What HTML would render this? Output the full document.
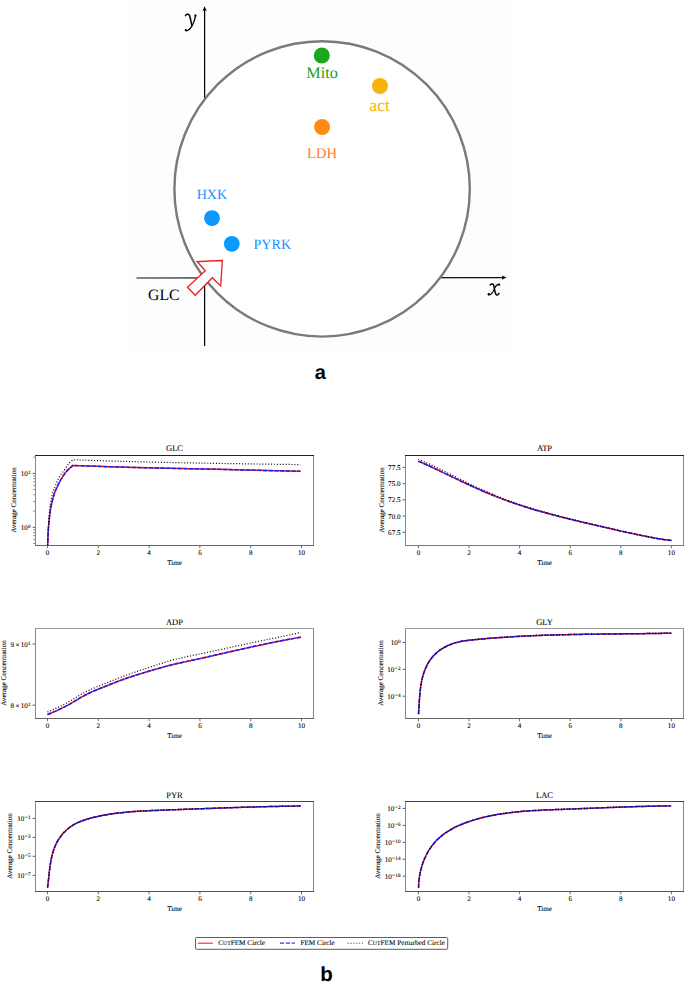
<!DOCTYPE html>
<html><head><meta charset="utf-8"><title>Figure</title>
<style>
html,body{margin:0;padding:0;background:#fff;width:685px;height:987px;overflow:hidden;}
.charts text{stroke:#000;stroke-width:0.08px;}
svg{display:block;}

</style></head><body>
<svg width="685" height="987" viewBox="0 0 685 987" font-family='"Liberation Serif", serif' fill="#000" text-rendering="geometricPrecision">
<rect x="130" y="1" width="382.5" height="352" fill="#fdfdfd"/>
<line x1="204.6" y1="9" x2="204.6" y2="346" stroke="#000" stroke-width="1.2"/>
<path d="M204.6,6.3 L202.5,11 L204.6,10.2 L206.7,11 Z" fill="#000"/>
<line x1="136.5" y1="278.0" x2="503" y2="277.55" stroke="#111" stroke-width="1.2"/>
<path d="M506.5,277.6 L501.8,275.5 L502.6,277.6 L501.8,279.7 Z" fill="#000"/>
<circle cx="322.1" cy="188.9" r="147.7" fill="#fff" stroke="#7a7a7a" stroke-width="2.4"/>
<path d="M222.30,260.50 L197.10,261.50 L205.30,270.70 L187.50,287.30 L195.20,295.20 L212.30,277.70 L220.70,285.90 Z" fill="#fff" stroke="#ee1c1c" stroke-width="1.3" stroke-linejoin="miter"/>
<circle cx="321.8" cy="55.5" r="8" fill="#1ea51e"/>
<circle cx="379.95" cy="86" r="8" fill="#f6b40a"/>
<circle cx="322.1" cy="127" r="8" fill="#ff8c0f"/>
<circle cx="212" cy="218.2" r="7.9" fill="#0a99ff"/>
<circle cx="231.8" cy="243.8" r="7.9" fill="#0a99ff"/>
<text x="322" y="78.1" font-family='"Liberation Serif", serif' font-size="16.2" fill="#1a9e1a" text-anchor="middle">Mito</text>
<text x="379.6" y="110.9" font-family='"Liberation Serif", serif' font-size="17.6" fill="#f6b40a" text-anchor="middle">act</text>
<text x="322" y="157.8" font-family='"Liberation Serif", serif' font-size="14.6" fill="#ff7a1f" text-anchor="middle">LDH</text>
<text x="196.7" y="199" font-family='"Liberation Serif", serif' font-size="14.1" fill="#1a90ff">HXK</text>
<text x="253.4" y="248.7" font-family='"Liberation Serif", serif' font-size="14.2" fill="#1a90ff">PYRK</text>
<text x="148" y="300.4" font-family='"Liberation Serif", serif' font-size="15.8" fill="#000">GLC</text>
<g fill="none" stroke="#000" stroke-linecap="round"><path d="M185.5,15.6 C186.3,14.3 188.4,13.6 189.4,15.2 C190.1,16.6 190.6,19.5 191.1,22 C191.4,23.8 191.6,24.9 192,25.6" stroke-width="1.5"/><path d="M195.6,15.4 C195.2,18.5 194.2,21.6 192.6,24.8 C191.2,27.6 189.3,29.8 187.6,30.5 C186.7,30.9 186,30.8 185.6,30.5" stroke-width="1.3"/></g><circle cx="195.4" cy="15.7" r="1.15" fill="#000"/><circle cx="185.8" cy="30.1" r="1.15" fill="#000"/>
<g fill="none" stroke="#000" stroke-linecap="round"><path d="M490.2,285 C491,283.9 492.6,283.4 493.4,284.6 C494.1,285.8 494.4,288.5 494.9,291 C495.3,293 495.8,294.9 496.8,295.1 C497.6,295.3 498.4,294.5 499,293.4" stroke-width="1.45"/><path d="M499.2,284.4 C497.6,284.3 496,285.5 495,287.4 C494.2,289 493.6,290.7 492.6,292.4 C491.6,294 490.4,295 488.7,294.8" stroke-width="1.05"/></g><circle cx="499.2" cy="284.7" r="1.1" fill="#000"/><circle cx="488.8" cy="294.3" r="1.2" fill="#000"/>
<text x="320.4" y="379.2" font-family='"Liberation Sans", sans-serif' font-weight="bold" font-size="20" fill="#000" text-anchor="middle">a</text>
<text x="326.5" y="980.9" font-family='"Liberation Sans", sans-serif' font-weight="bold" font-size="20.5" fill="#000" text-anchor="middle">b</text>
<g class="charts">
<clipPath id="c35_455"><rect x="35" y="455" width="279" height="91"/></clipPath>
<g clip-path="url(#c35_455)" fill="none" stroke-width="1.5">
<path d="M47.60,548.00 C47.62,547.48 47.60,547.58 47.70,544.90 C47.80,542.22 47.97,535.98 48.20,531.90 C48.43,527.82 48.70,524.25 49.10,520.40 C49.50,516.55 50.03,512.17 50.60,508.80 C51.17,505.43 51.87,502.75 52.50,500.20 C53.13,497.65 53.60,495.75 54.40,493.50 C55.20,491.25 56.25,488.95 57.30,486.70 C58.35,484.45 59.42,482.23 60.70,480.00 C61.98,477.77 63.65,475.15 65.00,473.30 C66.35,471.45 67.48,470.22 68.80,468.90 C70.12,467.58 72.22,465.98 72.90,465.40 C82.02,465.72 108.08,466.75 127.60,467.30 C147.12,467.85 170.83,468.27 190.00,468.70 C209.17,469.13 224.20,469.47 242.60,469.90 C261.00,470.33 290.77,471.07 300.40,471.30" stroke="#ff1a1a"/>
<path d="M47.60,548.00 C47.62,547.48 47.60,547.58 47.70,544.90 C47.80,542.22 47.97,535.98 48.20,531.90 C48.43,527.82 48.70,524.25 49.10,520.40 C49.50,516.55 50.03,512.17 50.60,508.80 C51.17,505.43 51.87,502.75 52.50,500.20 C53.13,497.65 53.60,495.75 54.40,493.50 C55.20,491.25 56.25,488.95 57.30,486.70 C58.35,484.45 59.42,482.23 60.70,480.00 C61.98,477.77 63.65,475.15 65.00,473.30 C66.35,471.45 67.48,470.22 68.80,468.90 C70.12,467.58 72.22,465.98 72.90,465.40 C82.02,465.72 108.08,466.75 127.60,467.30 C147.12,467.85 170.83,468.27 190.00,468.70 C209.17,469.13 224.20,469.47 242.60,469.90 C261.00,470.33 290.77,471.07 300.40,471.30" stroke="#1a1aff" stroke-dasharray="4.3 1.4"/>
<path d="M47.60,548.00 C47.62,546.92 47.45,546.75 47.70,541.50 C47.95,536.25 48.62,522.90 49.10,516.50 C49.58,510.10 50.03,506.93 50.60,503.10 C51.17,499.27 51.70,496.38 52.50,493.50 C53.30,490.62 54.28,488.53 55.40,485.80 C56.52,483.07 57.77,479.67 59.20,477.10 C60.63,474.53 62.40,472.63 64.00,470.40 C65.60,468.17 67.32,465.47 68.80,463.70 C70.28,461.93 72.22,460.45 72.90,459.80 C82.02,460.08 108.08,460.98 127.60,461.50 C147.12,462.02 170.83,462.52 190.00,462.90 C209.17,463.28 224.20,463.52 242.60,463.80 C261.00,464.08 290.77,464.47 300.40,464.60" stroke="#000" stroke-width="1.2" stroke-dasharray="1 1.9"/>
</g>
<rect x="35" y="455" width="1" height="91" fill="#888"/>
<rect x="313" y="455" width="1" height="91" fill="#888"/>
<rect x="35" y="455" width="279" height="1" fill="#222"/>
<rect x="35" y="545" width="279" height="1" fill="#666"/>
<line x1="47.50" y1="546" x2="47.50" y2="548.20" stroke="#444" stroke-width="0.8"/>
<text x="47.50" y="554.50" font-size="7.1" text-anchor="middle">0</text>
<line x1="98.30" y1="546" x2="98.30" y2="548.20" stroke="#444" stroke-width="0.8"/>
<text x="98.30" y="554.50" font-size="7.1" text-anchor="middle">2</text>
<line x1="149.10" y1="546" x2="149.10" y2="548.20" stroke="#444" stroke-width="0.8"/>
<text x="149.10" y="554.50" font-size="7.1" text-anchor="middle">4</text>
<line x1="199.90" y1="546" x2="199.90" y2="548.20" stroke="#444" stroke-width="0.8"/>
<text x="199.90" y="554.50" font-size="7.1" text-anchor="middle">6</text>
<line x1="250.70" y1="546" x2="250.70" y2="548.20" stroke="#444" stroke-width="0.8"/>
<text x="250.70" y="554.50" font-size="7.1" text-anchor="middle">8</text>
<line x1="301.50" y1="546" x2="301.50" y2="548.20" stroke="#444" stroke-width="0.8"/>
<text x="301.50" y="554.50" font-size="7.1" text-anchor="middle">10</text>
<line x1="32.60" y1="473.40" x2="35" y2="473.40" stroke="#333" stroke-width="0.8"/>
<text x="30.50" y="475.90" font-size="7.1" text-anchor="end">10<tspan dy="-1.9" font-size="5.2">1</tspan></text>
<line x1="32.60" y1="527.30" x2="35" y2="527.30" stroke="#333" stroke-width="0.8"/>
<text x="30.50" y="529.80" font-size="7.1" text-anchor="end">10<tspan dy="-1.9" font-size="5.2">0</tspan></text>
<line x1="33.20" y1="543.53" x2="35" y2="543.53" stroke="#555" stroke-width="0.7"/>
<line x1="33.20" y1="539.26" x2="35" y2="539.26" stroke="#555" stroke-width="0.7"/>
<line x1="33.20" y1="535.65" x2="35" y2="535.65" stroke="#555" stroke-width="0.7"/>
<line x1="33.20" y1="532.52" x2="35" y2="532.52" stroke="#555" stroke-width="0.7"/>
<line x1="33.20" y1="529.77" x2="35" y2="529.77" stroke="#555" stroke-width="0.7"/>
<line x1="33.20" y1="511.07" x2="35" y2="511.07" stroke="#555" stroke-width="0.7"/>
<line x1="33.20" y1="501.58" x2="35" y2="501.58" stroke="#555" stroke-width="0.7"/>
<line x1="33.20" y1="494.85" x2="35" y2="494.85" stroke="#555" stroke-width="0.7"/>
<line x1="33.20" y1="489.63" x2="35" y2="489.63" stroke="#555" stroke-width="0.7"/>
<line x1="33.20" y1="485.36" x2="35" y2="485.36" stroke="#555" stroke-width="0.7"/>
<line x1="33.20" y1="481.75" x2="35" y2="481.75" stroke="#555" stroke-width="0.7"/>
<line x1="33.20" y1="478.62" x2="35" y2="478.62" stroke="#555" stroke-width="0.7"/>
<line x1="33.20" y1="475.87" x2="35" y2="475.87" stroke="#555" stroke-width="0.7"/>
<line x1="33.20" y1="457.17" x2="35" y2="457.17" stroke="#555" stroke-width="0.7"/>
<text x="174.50" y="451.10" font-size="8.5" text-anchor="middle">GLC</text>
<text x="174.50" y="564.60" font-size="7.1" text-anchor="middle">Time</text>
<text transform="translate(16.30,500.00) rotate(-90)" font-size="7.1" text-anchor="middle">Average Concentration</text>
<clipPath id="c405_455"><rect x="405" y="455" width="279" height="91"/></clipPath>
<g clip-path="url(#c405_455)" fill="none" stroke-width="1.5">
<path d="M418.40,461.20 C419.48,461.67 422.72,463.05 424.89,464.02 C427.05,464.98 429.21,465.98 431.37,466.98 C433.54,467.98 435.70,469.01 437.86,470.04 C440.02,471.07 442.19,472.11 444.35,473.16 C446.51,474.20 448.67,475.25 450.84,476.29 C453.00,477.33 455.16,478.37 457.32,479.40 C459.49,480.44 461.65,481.47 463.81,482.48 C465.97,483.49 468.14,484.50 470.30,485.49 C472.46,486.48 474.62,487.46 476.78,488.42 C478.95,489.38 481.11,490.32 483.27,491.25 C485.43,492.18 487.60,493.09 489.76,493.98 C491.92,494.87 494.08,495.74 496.25,496.59 C498.41,497.44 500.57,498.28 502.73,499.09 C504.90,499.90 507.06,500.70 509.22,501.47 C511.38,502.25 513.55,503.00 515.71,503.74 C517.87,504.48 520.03,505.20 522.19,505.90 C524.36,506.60 526.52,507.29 528.68,507.96 C530.84,508.63 533.01,509.28 535.17,509.92 C537.33,510.56 539.49,511.18 541.66,511.79 C543.82,512.40 545.98,513.00 548.14,513.58 C550.31,514.17 552.47,514.74 554.63,515.31 C556.79,515.88 558.96,516.43 561.12,516.98 C563.28,517.53 565.44,518.07 567.61,518.60 C569.77,519.13 571.93,519.66 574.09,520.18 C576.25,520.70 578.42,521.22 580.58,521.74 C582.74,522.25 584.90,522.76 587.07,523.27 C589.23,523.77 591.39,524.28 593.55,524.78 C595.72,525.28 597.88,525.78 600.04,526.28 C602.20,526.78 604.37,527.28 606.53,527.78 C608.69,528.27 610.85,528.77 613.02,529.26 C615.18,529.75 617.34,530.24 619.50,530.73 C621.66,531.22 623.83,531.70 625.99,532.18 C628.15,532.66 630.31,533.14 632.48,533.60 C634.64,534.07 636.80,534.53 638.96,534.98 C641.13,535.43 643.29,535.87 645.45,536.30 C647.61,536.72 649.78,537.14 651.94,537.53 C654.10,537.92 656.26,538.31 658.43,538.66 C660.59,539.01 662.75,539.34 664.91,539.64 C667.08,539.94 670.32,540.31 671.40,540.44" stroke="#ff1a1a"/>
<path d="M418.40,461.20 C419.48,461.67 422.72,463.05 424.89,464.02 C427.05,464.98 429.21,465.98 431.37,466.98 C433.54,467.98 435.70,469.01 437.86,470.04 C440.02,471.07 442.19,472.11 444.35,473.16 C446.51,474.20 448.67,475.25 450.84,476.29 C453.00,477.33 455.16,478.37 457.32,479.40 C459.49,480.44 461.65,481.47 463.81,482.48 C465.97,483.49 468.14,484.50 470.30,485.49 C472.46,486.48 474.62,487.46 476.78,488.42 C478.95,489.38 481.11,490.32 483.27,491.25 C485.43,492.18 487.60,493.09 489.76,493.98 C491.92,494.87 494.08,495.74 496.25,496.59 C498.41,497.44 500.57,498.28 502.73,499.09 C504.90,499.90 507.06,500.70 509.22,501.47 C511.38,502.25 513.55,503.00 515.71,503.74 C517.87,504.48 520.03,505.20 522.19,505.90 C524.36,506.60 526.52,507.29 528.68,507.96 C530.84,508.63 533.01,509.28 535.17,509.92 C537.33,510.56 539.49,511.18 541.66,511.79 C543.82,512.40 545.98,513.00 548.14,513.58 C550.31,514.17 552.47,514.74 554.63,515.31 C556.79,515.88 558.96,516.43 561.12,516.98 C563.28,517.53 565.44,518.07 567.61,518.60 C569.77,519.13 571.93,519.66 574.09,520.18 C576.25,520.70 578.42,521.22 580.58,521.74 C582.74,522.25 584.90,522.76 587.07,523.27 C589.23,523.77 591.39,524.28 593.55,524.78 C595.72,525.28 597.88,525.78 600.04,526.28 C602.20,526.78 604.37,527.28 606.53,527.78 C608.69,528.27 610.85,528.77 613.02,529.26 C615.18,529.75 617.34,530.24 619.50,530.73 C621.66,531.22 623.83,531.70 625.99,532.18 C628.15,532.66 630.31,533.14 632.48,533.60 C634.64,534.07 636.80,534.53 638.96,534.98 C641.13,535.43 643.29,535.87 645.45,536.30 C647.61,536.72 649.78,537.14 651.94,537.53 C654.10,537.92 656.26,538.31 658.43,538.66 C660.59,539.01 662.75,539.34 664.91,539.64 C667.08,539.94 670.32,540.31 671.40,540.44" stroke="#1a1aff" stroke-dasharray="4.3 1.4"/>
<path d="M418.40,459.20 C419.48,459.68 422.72,461.07 424.89,462.04 C427.05,463.01 429.21,464.01 431.37,465.02 C433.54,466.04 435.70,467.07 437.86,468.11 C440.02,469.14 442.19,470.18 444.35,471.24 C446.51,472.31 448.67,473.38 450.84,474.48 C453.00,475.57 455.16,476.70 457.32,477.80 C459.49,478.90 461.65,480.00 463.81,481.08 C465.97,482.16 468.14,483.26 470.30,484.29 C472.46,485.33 474.62,486.31 476.78,487.30 C478.95,488.29 481.11,489.26 483.27,490.21 C485.43,491.16 487.60,492.10 489.76,493.01 C491.92,493.93 494.08,494.83 496.25,495.71 C498.41,496.58 500.57,497.44 502.73,498.28 C504.90,499.12 507.06,499.94 509.22,500.74 C511.38,501.54 513.55,502.33 515.71,503.09 C517.87,503.85 520.03,504.59 522.19,505.31 C524.36,506.03 526.52,506.71 528.68,507.39 C530.84,508.07 533.01,508.73 535.17,509.37 C537.33,510.02 539.49,510.65 541.66,511.27 C543.82,511.89 545.98,512.49 548.14,513.09 C550.31,513.68 552.47,514.27 554.63,514.84 C556.79,515.41 558.96,515.98 561.12,516.53 C563.28,517.09 565.44,517.64 567.61,518.18 C569.77,518.72 571.93,519.25 574.09,519.79 C576.25,520.32 578.42,520.84 580.58,521.36 C582.74,521.88 584.90,522.40 587.07,522.92 C589.23,523.43 591.39,523.95 593.55,524.46 C595.72,524.97 597.88,525.48 600.04,525.98 C602.20,526.49 604.37,526.99 606.53,527.50 C608.69,528.00 610.85,528.50 613.02,529.00 C615.18,529.50 617.34,529.99 619.50,530.49 C621.66,530.98 623.83,531.47 625.99,531.95 C628.15,532.44 630.31,532.92 632.48,533.39 C634.64,533.87 636.80,534.33 638.96,534.79 C641.13,535.24 643.29,535.69 645.45,536.12 C647.61,536.56 649.78,536.98 651.94,537.38 C654.10,537.78 656.26,538.16 658.43,538.52 C660.59,538.88 662.75,539.22 664.91,539.52 C667.08,539.82 670.32,540.20 671.40,540.34" stroke="#000" stroke-width="1.2" stroke-dasharray="1 1.9"/>
</g>
<rect x="405" y="455" width="1" height="91" fill="#888"/>
<rect x="683" y="455" width="1" height="91" fill="#888"/>
<rect x="405" y="455" width="279" height="1" fill="#222"/>
<rect x="405" y="545" width="279" height="1" fill="#777"/>
<line x1="418.40" y1="546" x2="418.40" y2="548.20" stroke="#444" stroke-width="0.8"/>
<text x="418.40" y="554.50" font-size="7.1" text-anchor="middle">0</text>
<line x1="469.00" y1="546" x2="469.00" y2="548.20" stroke="#444" stroke-width="0.8"/>
<text x="469.00" y="554.50" font-size="7.1" text-anchor="middle">2</text>
<line x1="519.60" y1="546" x2="519.60" y2="548.20" stroke="#444" stroke-width="0.8"/>
<text x="519.60" y="554.50" font-size="7.1" text-anchor="middle">4</text>
<line x1="570.20" y1="546" x2="570.20" y2="548.20" stroke="#444" stroke-width="0.8"/>
<text x="570.20" y="554.50" font-size="7.1" text-anchor="middle">6</text>
<line x1="620.80" y1="546" x2="620.80" y2="548.20" stroke="#444" stroke-width="0.8"/>
<text x="620.80" y="554.50" font-size="7.1" text-anchor="middle">8</text>
<line x1="671.40" y1="546" x2="671.40" y2="548.20" stroke="#444" stroke-width="0.8"/>
<text x="671.40" y="554.50" font-size="7.1" text-anchor="middle">10</text>
<line x1="402.60" y1="467.40" x2="405" y2="467.40" stroke="#333" stroke-width="0.8"/>
<text x="400.50" y="469.90" font-size="7.1" text-anchor="end">77.5</text>
<line x1="402.60" y1="483.70" x2="405" y2="483.70" stroke="#333" stroke-width="0.8"/>
<text x="400.50" y="486.20" font-size="7.1" text-anchor="end">75.0</text>
<line x1="402.60" y1="499.90" x2="405" y2="499.90" stroke="#333" stroke-width="0.8"/>
<text x="400.50" y="502.40" font-size="7.1" text-anchor="end">72.5</text>
<line x1="402.60" y1="516.10" x2="405" y2="516.10" stroke="#333" stroke-width="0.8"/>
<text x="400.50" y="518.60" font-size="7.1" text-anchor="end">70.0</text>
<line x1="402.60" y1="532.30" x2="405" y2="532.30" stroke="#333" stroke-width="0.8"/>
<text x="400.50" y="534.80" font-size="7.1" text-anchor="end">67.5</text>
<text x="544.50" y="451.10" font-size="8.5" text-anchor="middle">ATP</text>
<text x="544.50" y="564.60" font-size="7.1" text-anchor="middle">Time</text>
<text transform="translate(384.10,500.00) rotate(-90)" font-size="7.1" text-anchor="middle">Average Concentration</text>
<clipPath id="c35_628"><rect x="35" y="628" width="279" height="91"/></clipPath>
<g clip-path="url(#c35_628)" fill="none" stroke-width="1.5">
<path d="M47.48,714.45 C48.00,714.25 49.57,713.63 50.61,713.20 C51.66,712.78 52.70,712.35 53.73,711.91 C54.77,711.47 55.80,711.02 56.82,710.56 C57.85,710.10 58.87,709.63 59.88,709.15 C60.90,708.68 61.91,708.19 62.92,707.69 C63.92,707.19 64.92,706.68 65.91,706.15 C66.91,705.63 67.89,705.10 68.87,704.55 C69.86,704.00 70.83,703.44 71.80,702.87 C72.77,702.30 73.73,701.72 74.70,701.14 C75.66,700.57 76.63,699.98 77.59,699.41 C78.56,698.84 79.53,698.26 80.50,697.70 C81.47,697.14 82.45,696.59 83.44,696.05 C84.42,695.52 85.42,695.00 86.42,694.50 C87.42,693.99 88.43,693.51 89.45,693.03 C90.46,692.56 91.48,692.09 92.51,691.64 C93.54,691.19 94.57,690.74 95.60,690.31 C96.64,689.87 97.68,689.44 98.72,689.02 C99.76,688.59 100.80,688.17 101.84,687.75 C102.89,687.34 103.93,686.92 104.98,686.50 C106.02,686.09 107.06,685.67 108.11,685.25 C109.15,684.83 110.20,684.41 111.24,684.00 C112.29,683.58 113.33,683.17 114.38,682.76 C115.42,682.35 116.47,681.94 117.52,681.54 C118.57,681.14 119.62,680.74 120.67,680.35 C121.72,679.96 122.78,679.57 123.84,679.19 C124.89,678.82 125.95,678.44 127.01,678.08 C128.08,677.71 129.14,677.35 130.20,676.99 C131.27,676.64 132.33,676.29 133.40,675.94 C134.47,675.59 135.54,675.25 136.61,674.91 C137.68,674.58 138.76,674.24 139.83,673.91 C140.91,673.58 141.98,673.26 143.06,672.94 C144.14,672.61 145.21,672.30 146.29,671.98 C147.37,671.66 148.45,671.35 149.53,671.03 C150.61,670.72 151.69,670.40 152.77,670.09 C153.85,669.78 154.93,669.47 156.01,669.15 C157.09,668.84 158.17,668.53 159.25,668.22 C160.33,667.91 161.41,667.60 162.49,667.30 C163.57,667.00 164.65,666.69 165.74,666.40 C166.82,666.11 167.91,665.82 168.99,665.54 C170.08,665.25 171.17,664.98 172.26,664.71 C173.35,664.45 174.45,664.19 175.54,663.93 C176.63,663.68 177.73,663.43 178.82,663.18 C179.92,662.94 181.02,662.69 182.12,662.46 C183.21,662.22 184.31,661.98 185.41,661.74 C186.51,661.51 187.61,661.27 188.71,661.04 C189.81,660.80 190.90,660.57 192.00,660.33 C193.10,660.09 194.20,659.85 195.30,659.61 C196.40,659.37 197.49,659.13 198.59,658.89 C199.69,658.65 200.79,658.41 201.88,658.16 C202.98,657.92 204.08,657.67 205.17,657.43 C206.27,657.18 207.37,656.94 208.46,656.69 C209.56,656.45 210.66,656.20 211.75,655.95 C212.85,655.70 213.94,655.46 215.04,655.21 C216.14,654.96 217.23,654.71 218.33,654.46 C219.42,654.21 220.52,653.96 221.61,653.71 C222.71,653.47 223.81,653.22 224.90,652.97 C226.00,652.72 227.09,652.47 228.19,652.22 C229.28,651.97 230.38,651.72 231.47,651.47 C232.57,651.22 233.67,650.97 234.76,650.73 C235.86,650.48 236.95,650.23 238.05,649.98 C239.15,649.73 240.24,649.49 241.34,649.24 C242.43,648.99 243.53,648.75 244.63,648.50 C245.72,648.26 246.82,648.01 247.92,647.77 C249.01,647.53 250.11,647.28 251.21,647.04 C252.30,646.80 253.40,646.56 254.50,646.32 C255.60,646.08 256.69,645.84 257.79,645.61 C258.89,645.37 259.99,645.13 261.09,644.90 C262.19,644.66 263.29,644.43 264.38,644.20 C265.48,643.97 266.58,643.73 267.68,643.51 C268.78,643.28 269.88,643.05 270.98,642.82 C272.08,642.60 273.19,642.37 274.29,642.15 C275.39,641.93 276.49,641.71 277.59,641.49 C278.69,641.27 279.80,641.06 280.90,640.84 C282.00,640.63 283.11,640.41 284.21,640.20 C285.31,639.99 286.42,639.79 287.52,639.58 C288.63,639.37 289.73,639.17 290.84,638.97 C291.94,638.77 293.05,638.57 294.16,638.37 C295.26,638.18 296.37,637.98 297.48,637.79 C298.59,637.60 300.25,637.32 300.81,637.23" stroke="#ff1a1a"/>
<path d="M47.48,714.45 C48.00,714.25 49.57,713.63 50.61,713.20 C51.66,712.78 52.70,712.35 53.73,711.91 C54.77,711.47 55.80,711.02 56.82,710.56 C57.85,710.10 58.87,709.63 59.88,709.15 C60.90,708.68 61.91,708.19 62.92,707.69 C63.92,707.19 64.92,706.68 65.91,706.15 C66.91,705.63 67.89,705.10 68.87,704.55 C69.86,704.00 70.83,703.44 71.80,702.87 C72.77,702.30 73.73,701.72 74.70,701.14 C75.66,700.57 76.63,699.98 77.59,699.41 C78.56,698.84 79.53,698.26 80.50,697.70 C81.47,697.14 82.45,696.59 83.44,696.05 C84.42,695.52 85.42,695.00 86.42,694.50 C87.42,693.99 88.43,693.51 89.45,693.03 C90.46,692.56 91.48,692.09 92.51,691.64 C93.54,691.19 94.57,690.74 95.60,690.31 C96.64,689.87 97.68,689.44 98.72,689.02 C99.76,688.59 100.80,688.17 101.84,687.75 C102.89,687.34 103.93,686.92 104.98,686.50 C106.02,686.09 107.06,685.67 108.11,685.25 C109.15,684.83 110.20,684.41 111.24,684.00 C112.29,683.58 113.33,683.17 114.38,682.76 C115.42,682.35 116.47,681.94 117.52,681.54 C118.57,681.14 119.62,680.74 120.67,680.35 C121.72,679.96 122.78,679.57 123.84,679.19 C124.89,678.82 125.95,678.44 127.01,678.08 C128.08,677.71 129.14,677.35 130.20,676.99 C131.27,676.64 132.33,676.29 133.40,675.94 C134.47,675.59 135.54,675.25 136.61,674.91 C137.68,674.58 138.76,674.24 139.83,673.91 C140.91,673.58 141.98,673.26 143.06,672.94 C144.14,672.61 145.21,672.30 146.29,671.98 C147.37,671.66 148.45,671.35 149.53,671.03 C150.61,670.72 151.69,670.40 152.77,670.09 C153.85,669.78 154.93,669.47 156.01,669.15 C157.09,668.84 158.17,668.53 159.25,668.22 C160.33,667.91 161.41,667.60 162.49,667.30 C163.57,667.00 164.65,666.69 165.74,666.40 C166.82,666.11 167.91,665.82 168.99,665.54 C170.08,665.25 171.17,664.98 172.26,664.71 C173.35,664.45 174.45,664.19 175.54,663.93 C176.63,663.68 177.73,663.43 178.82,663.18 C179.92,662.94 181.02,662.69 182.12,662.46 C183.21,662.22 184.31,661.98 185.41,661.74 C186.51,661.51 187.61,661.27 188.71,661.04 C189.81,660.80 190.90,660.57 192.00,660.33 C193.10,660.09 194.20,659.85 195.30,659.61 C196.40,659.37 197.49,659.13 198.59,658.89 C199.69,658.65 200.79,658.41 201.88,658.16 C202.98,657.92 204.08,657.67 205.17,657.43 C206.27,657.18 207.37,656.94 208.46,656.69 C209.56,656.45 210.66,656.20 211.75,655.95 C212.85,655.70 213.94,655.46 215.04,655.21 C216.14,654.96 217.23,654.71 218.33,654.46 C219.42,654.21 220.52,653.96 221.61,653.71 C222.71,653.47 223.81,653.22 224.90,652.97 C226.00,652.72 227.09,652.47 228.19,652.22 C229.28,651.97 230.38,651.72 231.47,651.47 C232.57,651.22 233.67,650.97 234.76,650.73 C235.86,650.48 236.95,650.23 238.05,649.98 C239.15,649.73 240.24,649.49 241.34,649.24 C242.43,648.99 243.53,648.75 244.63,648.50 C245.72,648.26 246.82,648.01 247.92,647.77 C249.01,647.53 250.11,647.28 251.21,647.04 C252.30,646.80 253.40,646.56 254.50,646.32 C255.60,646.08 256.69,645.84 257.79,645.61 C258.89,645.37 259.99,645.13 261.09,644.90 C262.19,644.66 263.29,644.43 264.38,644.20 C265.48,643.97 266.58,643.73 267.68,643.51 C268.78,643.28 269.88,643.05 270.98,642.82 C272.08,642.60 273.19,642.37 274.29,642.15 C275.39,641.93 276.49,641.71 277.59,641.49 C278.69,641.27 279.80,641.06 280.90,640.84 C282.00,640.63 283.11,640.41 284.21,640.20 C285.31,639.99 286.42,639.79 287.52,639.58 C288.63,639.37 289.73,639.17 290.84,638.97 C291.94,638.77 293.05,638.57 294.16,638.37 C295.26,638.18 296.37,637.98 297.48,637.79 C298.59,637.60 300.25,637.32 300.81,637.23" stroke="#1a1aff" stroke-dasharray="4.3 1.4"/>
<path d="M47.49,711.98 C48.01,711.77 49.58,711.12 50.61,710.68 C51.65,710.24 52.69,709.79 53.72,709.34 C54.75,708.88 55.78,708.42 56.80,707.95 C57.82,707.48 58.84,707.00 59.86,706.51 C60.87,706.02 61.88,705.52 62.88,705.00 C63.88,704.49 64.88,703.97 65.87,703.43 C66.86,702.90 67.84,702.35 68.82,701.78 C69.80,701.22 70.76,700.64 71.73,700.06 C72.70,699.48 73.65,698.88 74.62,698.29 C75.58,697.70 76.53,697.10 77.50,696.51 C78.46,695.92 79.42,695.34 80.39,694.77 C81.37,694.20 82.34,693.64 83.33,693.10 C84.32,692.57 85.32,692.05 86.32,691.55 C87.33,691.05 88.35,690.57 89.37,690.10 C90.39,689.63 91.42,689.18 92.45,688.73 C93.49,688.28 94.53,687.85 95.56,687.41 C96.60,686.98 97.65,686.55 98.69,686.12 C99.73,685.69 100.77,685.26 101.81,684.83 C102.86,684.40 103.90,683.97 104.94,683.55 C105.99,683.12 107.03,682.70 108.08,682.27 C109.12,681.85 110.17,681.43 111.21,681.01 C112.26,680.59 113.31,680.17 114.35,679.76 C115.40,679.35 116.45,678.93 117.50,678.53 C118.55,678.12 119.60,677.71 120.65,677.31 C121.71,676.91 122.76,676.51 123.82,676.12 C124.87,675.73 125.93,675.34 126.99,674.95 C128.05,674.57 129.11,674.19 130.17,673.81 C131.23,673.43 132.29,673.06 133.36,672.69 C134.42,672.33 135.49,671.96 136.55,671.60 C137.62,671.24 138.69,670.88 139.75,670.52 C140.82,670.16 141.89,669.81 142.96,669.45 C144.03,669.10 145.10,668.75 146.17,668.39 C147.24,668.04 148.31,667.69 149.38,667.34 C150.45,666.99 151.52,666.64 152.59,666.28 C153.66,665.93 154.73,665.58 155.80,665.22 C156.87,664.87 157.94,664.51 159.01,664.16 C160.08,663.81 161.15,663.46 162.23,663.11 C163.30,662.77 164.37,662.43 165.45,662.09 C166.53,661.76 167.60,661.43 168.68,661.12 C169.76,660.80 170.85,660.50 171.94,660.20 C173.02,659.91 174.11,659.63 175.20,659.35 C176.30,659.08 177.39,658.81 178.49,658.55 C179.58,658.29 180.68,658.04 181.78,657.79 C182.88,657.54 183.98,657.30 185.08,657.06 C186.19,656.82 187.29,656.59 188.39,656.35 C189.49,656.12 190.60,655.89 191.70,655.66 C192.80,655.43 193.91,655.20 195.01,654.96 C196.11,654.73 197.22,654.50 198.32,654.27 C199.42,654.04 200.53,653.81 201.63,653.58 C202.73,653.35 203.83,653.12 204.94,652.89 C206.04,652.66 207.14,652.43 208.24,652.20 C209.35,651.97 210.45,651.73 211.55,651.50 C212.65,651.26 213.75,651.03 214.85,650.79 C215.96,650.56 217.06,650.32 218.16,650.08 C219.26,649.85 220.36,649.61 221.46,649.37 C222.56,649.13 223.66,648.89 224.76,648.65 C225.86,648.41 226.97,648.17 228.07,647.93 C229.17,647.69 230.27,647.45 231.37,647.21 C232.47,646.97 233.57,646.73 234.67,646.49 C235.77,646.25 236.87,646.01 237.97,645.77 C239.07,645.53 240.17,645.29 241.27,645.05 C242.38,644.82 243.48,644.58 244.58,644.34 C245.68,644.10 246.78,643.87 247.88,643.63 C248.98,643.40 250.09,643.16 251.19,642.93 C252.29,642.69 253.39,642.46 254.49,642.23 C255.60,642.00 256.70,641.77 257.80,641.54 C258.91,641.31 260.01,641.08 261.11,640.85 C262.21,640.62 263.32,640.39 264.42,640.17 C265.52,639.94 266.63,639.71 267.73,639.48 C268.83,639.26 269.94,639.03 271.04,638.80 C272.14,638.57 273.25,638.35 274.35,638.12 C275.45,637.89 276.56,637.66 277.66,637.44 C278.76,637.21 279.87,636.98 280.97,636.75 C282.07,636.52 283.18,636.29 284.28,636.06 C285.38,635.83 286.48,635.59 287.59,635.36 C288.69,635.13 289.79,634.90 290.89,634.66 C291.99,634.42 293.10,634.19 294.20,633.95 C295.30,633.71 296.40,633.47 297.50,633.23 C298.60,632.99 300.25,632.62 300.80,632.50" stroke="#000" stroke-width="1.2" stroke-dasharray="1 1.9"/>
</g>
<rect x="35" y="628" width="1" height="91" fill="#888"/>
<rect x="313" y="628" width="1" height="91" fill="#888"/>
<rect x="35" y="628" width="279" height="1" fill="#999"/>
<rect x="35" y="718" width="279" height="1" fill="#666"/>
<line x1="47.50" y1="719" x2="47.50" y2="721.20" stroke="#444" stroke-width="0.8"/>
<text x="47.50" y="727.50" font-size="7.1" text-anchor="middle">0</text>
<line x1="98.30" y1="719" x2="98.30" y2="721.20" stroke="#444" stroke-width="0.8"/>
<text x="98.30" y="727.50" font-size="7.1" text-anchor="middle">2</text>
<line x1="149.10" y1="719" x2="149.10" y2="721.20" stroke="#444" stroke-width="0.8"/>
<text x="149.10" y="727.50" font-size="7.1" text-anchor="middle">4</text>
<line x1="199.90" y1="719" x2="199.90" y2="721.20" stroke="#444" stroke-width="0.8"/>
<text x="199.90" y="727.50" font-size="7.1" text-anchor="middle">6</text>
<line x1="250.70" y1="719" x2="250.70" y2="721.20" stroke="#444" stroke-width="0.8"/>
<text x="250.70" y="727.50" font-size="7.1" text-anchor="middle">8</text>
<line x1="301.50" y1="719" x2="301.50" y2="721.20" stroke="#444" stroke-width="0.8"/>
<text x="301.50" y="727.50" font-size="7.1" text-anchor="middle">10</text>
<line x1="32.60" y1="644.10" x2="35" y2="644.10" stroke="#333" stroke-width="0.8"/>
<text x="30.50" y="646.60" font-size="7.1" text-anchor="end">9<tspan dx="1.6">&#215;</tspan><tspan dx="1.2">10</tspan><tspan dy="-1.9" font-size="5.2">1</tspan></text>
<line x1="32.60" y1="705.20" x2="35" y2="705.20" stroke="#333" stroke-width="0.8"/>
<text x="30.50" y="707.70" font-size="7.1" text-anchor="end">8<tspan dx="1.6">&#215;</tspan><tspan dx="1.2">10</tspan><tspan dy="-1.9" font-size="5.2">1</tspan></text>
<text x="174.50" y="624.80" font-size="8.5" text-anchor="middle">ADP</text>
<text x="174.50" y="737.60" font-size="7.1" text-anchor="middle">Time</text>
<text transform="translate(5.60,673.00) rotate(-90)" font-size="7.1" text-anchor="middle">Average Concentration</text>
<clipPath id="c405_628"><rect x="405" y="628" width="279" height="91"/></clipPath>
<g clip-path="url(#c405_628)" fill="none" stroke-width="1.5">
<path d="M418.50,714.17 C418.54,713.58 418.68,711.86 418.76,710.67 C418.84,709.48 418.92,708.26 418.99,707.02 C419.07,705.79 419.14,704.53 419.21,703.25 C419.29,701.98 419.37,700.69 419.46,699.39 C419.55,698.10 419.64,696.78 419.75,695.47 C419.87,694.15 419.98,692.83 420.13,691.50 C420.27,690.18 420.42,688.85 420.60,687.53 C420.79,686.20 420.99,684.88 421.22,683.56 C421.45,682.25 421.70,680.93 421.99,679.64 C422.28,678.34 422.60,677.05 422.95,675.78 C423.31,674.51 423.70,673.26 424.13,672.02 C424.56,670.79 425.03,669.57 425.54,668.39 C426.05,667.20 426.60,666.03 427.19,664.90 C427.78,663.77 428.41,662.67 429.09,661.61 C429.76,660.54 430.48,659.51 431.24,658.52 C432.01,657.53 432.82,656.58 433.66,655.68 C434.51,654.77 435.40,653.90 436.32,653.08 C437.25,652.25 438.21,651.46 439.21,650.72 C440.20,649.97 441.23,649.27 442.28,648.61 C443.34,647.95 444.43,647.33 445.54,646.75 C446.64,646.17 447.78,645.63 448.94,645.13 C450.09,644.63 451.27,644.18 452.47,643.77 C453.66,643.35 454.88,642.99 456.10,642.65 C457.33,642.32 458.57,642.03 459.82,641.77 C461.07,641.50 462.34,641.28 463.61,641.07 C464.87,640.86 466.16,640.68 467.44,640.51 C468.72,640.34 470.01,640.20 471.30,640.06 C472.59,639.91 473.89,639.79 475.18,639.66 C476.47,639.53 477.76,639.41 479.05,639.28 C480.35,639.16 481.64,639.04 482.93,638.93 C484.22,638.81 485.51,638.70 486.80,638.59 C488.08,638.48 489.37,638.37 490.66,638.27 C491.95,638.16 493.24,638.06 494.53,637.96 C495.81,637.86 497.10,637.77 498.39,637.67 C499.67,637.58 500.96,637.49 502.24,637.40 C503.53,637.31 504.82,637.23 506.10,637.14 C507.39,637.06 508.67,636.98 509.95,636.90 C511.24,636.82 512.52,636.75 513.81,636.67 C515.09,636.60 516.37,636.52 517.65,636.46 C518.94,636.39 520.22,636.32 521.50,636.25 C522.78,636.19 524.07,636.12 525.35,636.06 C526.63,636.00 527.91,635.94 529.19,635.88 C530.47,635.83 531.75,635.77 533.04,635.72 C534.32,635.66 535.60,635.61 536.88,635.56 C538.16,635.51 539.44,635.46 540.72,635.42 C542.00,635.37 543.28,635.33 544.56,635.28 C545.84,635.24 547.11,635.20 548.39,635.16 C549.67,635.12 550.95,635.08 552.23,635.04 C553.51,635.00 554.79,634.97 556.07,634.93 C557.35,634.90 558.62,634.86 559.90,634.83 C561.18,634.80 562.46,634.77 563.74,634.74 C565.02,634.71 566.29,634.68 567.57,634.65 C568.85,634.63 570.13,634.60 571.41,634.57 C572.69,634.55 573.96,634.52 575.24,634.50 C576.52,634.48 577.80,634.46 579.08,634.43 C580.36,634.41 581.63,634.39 582.91,634.37 C584.19,634.35 585.47,634.33 586.75,634.31 C588.03,634.29 589.30,634.28 590.58,634.26 C591.86,634.24 593.14,634.22 594.42,634.21 C595.70,634.19 596.98,634.18 598.26,634.16 C599.54,634.14 600.81,634.13 602.09,634.11 C603.37,634.10 604.65,634.09 605.93,634.07 C607.21,634.06 608.49,634.04 609.77,634.03 C611.05,634.02 612.33,634.00 613.61,633.99 C614.89,633.97 616.17,633.96 617.46,633.95 C618.74,633.93 620.02,633.92 621.30,633.91 C622.58,633.89 623.86,633.88 625.14,633.87 C626.43,633.85 627.71,633.84 628.99,633.82 C630.27,633.81 631.56,633.79 632.84,633.78 C634.12,633.76 635.41,633.75 636.69,633.73 C637.97,633.72 639.26,633.70 640.54,633.68 C641.83,633.67 643.11,633.65 644.40,633.63 C645.68,633.62 646.97,633.60 648.26,633.58 C649.54,633.56 650.83,633.54 652.12,633.52 C653.40,633.50 654.69,633.48 655.98,633.45 C657.27,633.43 658.56,633.41 659.84,633.38 C661.13,633.36 662.42,633.34 663.71,633.31 C665.00,633.28 666.29,633.26 667.58,633.23 C668.88,633.20 670.81,633.16 671.46,633.14" stroke="#ff1a1a"/>
<path d="M418.50,714.17 C418.54,713.58 418.68,711.86 418.76,710.67 C418.84,709.48 418.92,708.26 418.99,707.02 C419.07,705.79 419.14,704.53 419.21,703.25 C419.29,701.98 419.37,700.69 419.46,699.39 C419.55,698.10 419.64,696.78 419.75,695.47 C419.87,694.15 419.98,692.83 420.13,691.50 C420.27,690.18 420.42,688.85 420.60,687.53 C420.79,686.20 420.99,684.88 421.22,683.56 C421.45,682.25 421.70,680.93 421.99,679.64 C422.28,678.34 422.60,677.05 422.95,675.78 C423.31,674.51 423.70,673.26 424.13,672.02 C424.56,670.79 425.03,669.57 425.54,668.39 C426.05,667.20 426.60,666.03 427.19,664.90 C427.78,663.77 428.41,662.67 429.09,661.61 C429.76,660.54 430.48,659.51 431.24,658.52 C432.01,657.53 432.82,656.58 433.66,655.68 C434.51,654.77 435.40,653.90 436.32,653.08 C437.25,652.25 438.21,651.46 439.21,650.72 C440.20,649.97 441.23,649.27 442.28,648.61 C443.34,647.95 444.43,647.33 445.54,646.75 C446.64,646.17 447.78,645.63 448.94,645.13 C450.09,644.63 451.27,644.18 452.47,643.77 C453.66,643.35 454.88,642.99 456.10,642.65 C457.33,642.32 458.57,642.03 459.82,641.77 C461.07,641.50 462.34,641.28 463.61,641.07 C464.87,640.86 466.16,640.68 467.44,640.51 C468.72,640.34 470.01,640.20 471.30,640.06 C472.59,639.91 473.89,639.79 475.18,639.66 C476.47,639.53 477.76,639.41 479.05,639.28 C480.35,639.16 481.64,639.04 482.93,638.93 C484.22,638.81 485.51,638.70 486.80,638.59 C488.08,638.48 489.37,638.37 490.66,638.27 C491.95,638.16 493.24,638.06 494.53,637.96 C495.81,637.86 497.10,637.77 498.39,637.67 C499.67,637.58 500.96,637.49 502.24,637.40 C503.53,637.31 504.82,637.23 506.10,637.14 C507.39,637.06 508.67,636.98 509.95,636.90 C511.24,636.82 512.52,636.75 513.81,636.67 C515.09,636.60 516.37,636.52 517.65,636.46 C518.94,636.39 520.22,636.32 521.50,636.25 C522.78,636.19 524.07,636.12 525.35,636.06 C526.63,636.00 527.91,635.94 529.19,635.88 C530.47,635.83 531.75,635.77 533.04,635.72 C534.32,635.66 535.60,635.61 536.88,635.56 C538.16,635.51 539.44,635.46 540.72,635.42 C542.00,635.37 543.28,635.33 544.56,635.28 C545.84,635.24 547.11,635.20 548.39,635.16 C549.67,635.12 550.95,635.08 552.23,635.04 C553.51,635.00 554.79,634.97 556.07,634.93 C557.35,634.90 558.62,634.86 559.90,634.83 C561.18,634.80 562.46,634.77 563.74,634.74 C565.02,634.71 566.29,634.68 567.57,634.65 C568.85,634.63 570.13,634.60 571.41,634.57 C572.69,634.55 573.96,634.52 575.24,634.50 C576.52,634.48 577.80,634.46 579.08,634.43 C580.36,634.41 581.63,634.39 582.91,634.37 C584.19,634.35 585.47,634.33 586.75,634.31 C588.03,634.29 589.30,634.28 590.58,634.26 C591.86,634.24 593.14,634.22 594.42,634.21 C595.70,634.19 596.98,634.18 598.26,634.16 C599.54,634.14 600.81,634.13 602.09,634.11 C603.37,634.10 604.65,634.09 605.93,634.07 C607.21,634.06 608.49,634.04 609.77,634.03 C611.05,634.02 612.33,634.00 613.61,633.99 C614.89,633.97 616.17,633.96 617.46,633.95 C618.74,633.93 620.02,633.92 621.30,633.91 C622.58,633.89 623.86,633.88 625.14,633.87 C626.43,633.85 627.71,633.84 628.99,633.82 C630.27,633.81 631.56,633.79 632.84,633.78 C634.12,633.76 635.41,633.75 636.69,633.73 C637.97,633.72 639.26,633.70 640.54,633.68 C641.83,633.67 643.11,633.65 644.40,633.63 C645.68,633.62 646.97,633.60 648.26,633.58 C649.54,633.56 650.83,633.54 652.12,633.52 C653.40,633.50 654.69,633.48 655.98,633.45 C657.27,633.43 658.56,633.41 659.84,633.38 C661.13,633.36 662.42,633.34 663.71,633.31 C665.00,633.28 666.29,633.26 667.58,633.23 C668.88,633.20 670.81,633.16 671.46,633.14" stroke="#1a1aff" stroke-dasharray="4.3 1.4"/>
<path d="M418.50,713.97 C418.54,713.38 418.68,711.66 418.76,710.47 C418.84,709.28 418.92,708.06 418.99,706.82 C419.07,705.59 419.14,704.33 419.21,703.05 C419.29,701.78 419.37,700.49 419.46,699.19 C419.55,697.90 419.64,696.58 419.75,695.27 C419.87,693.95 419.98,692.63 420.13,691.30 C420.27,689.98 420.42,688.65 420.60,687.33 C420.79,686.00 420.99,684.68 421.22,683.36 C421.45,682.05 421.70,680.73 421.99,679.44 C422.28,678.14 422.60,676.85 422.95,675.58 C423.31,674.31 423.70,673.06 424.13,671.82 C424.56,670.59 425.03,669.37 425.54,668.19 C426.05,667.00 426.60,665.83 427.19,664.70 C427.78,663.57 428.41,662.47 429.09,661.41 C429.76,660.34 430.48,659.31 431.24,658.32 C432.01,657.33 432.82,656.38 433.66,655.48 C434.51,654.57 435.40,653.70 436.32,652.88 C437.25,652.05 438.21,651.26 439.21,650.52 C440.20,649.77 441.23,649.07 442.28,648.41 C443.34,647.75 444.43,647.13 445.54,646.55 C446.64,645.97 447.78,645.43 448.94,644.93 C450.09,644.43 451.27,643.98 452.47,643.57 C453.66,643.15 454.88,642.79 456.10,642.45 C457.33,642.12 458.57,641.83 459.82,641.57 C461.07,641.30 462.34,641.08 463.61,640.87 C464.87,640.66 466.16,640.48 467.44,640.31 C468.72,640.14 470.01,640.00 471.30,639.86 C472.59,639.71 473.89,639.59 475.18,639.46 C476.47,639.33 477.76,639.21 479.05,639.08 C480.35,638.96 481.64,638.84 482.93,638.73 C484.22,638.61 485.51,638.50 486.80,638.39 C488.08,638.28 489.37,638.17 490.66,638.07 C491.95,637.96 493.24,637.86 494.53,637.76 C495.81,637.66 497.10,637.57 498.39,637.47 C499.67,637.38 500.96,637.29 502.24,637.20 C503.53,637.11 504.82,637.03 506.10,636.94 C507.39,636.86 508.67,636.78 509.95,636.70 C511.24,636.62 512.52,636.55 513.81,636.47 C515.09,636.40 516.37,636.32 517.65,636.26 C518.94,636.19 520.22,636.12 521.50,636.05 C522.78,635.99 524.07,635.92 525.35,635.86 C526.63,635.80 527.91,635.74 529.19,635.68 C530.47,635.63 531.75,635.57 533.04,635.52 C534.32,635.46 535.60,635.41 536.88,635.36 C538.16,635.31 539.44,635.26 540.72,635.22 C542.00,635.17 543.28,635.13 544.56,635.08 C545.84,635.04 547.11,635.00 548.39,634.96 C549.67,634.92 550.95,634.88 552.23,634.84 C553.51,634.80 554.79,634.77 556.07,634.73 C557.35,634.70 558.62,634.66 559.90,634.63 C561.18,634.60 562.46,634.57 563.74,634.54 C565.02,634.51 566.29,634.48 567.57,634.45 C568.85,634.43 570.13,634.40 571.41,634.37 C572.69,634.35 573.96,634.32 575.24,634.30 C576.52,634.28 577.80,634.26 579.08,634.23 C580.36,634.21 581.63,634.19 582.91,634.17 C584.19,634.15 585.47,634.13 586.75,634.11 C588.03,634.09 589.30,634.08 590.58,634.06 C591.86,634.04 593.14,634.02 594.42,634.01 C595.70,633.99 596.98,633.98 598.26,633.96 C599.54,633.94 600.81,633.93 602.09,633.91 C603.37,633.90 604.65,633.89 605.93,633.87 C607.21,633.86 608.49,633.84 609.77,633.83 C611.05,633.82 612.33,633.80 613.61,633.79 C614.89,633.77 616.17,633.76 617.46,633.75 C618.74,633.73 620.02,633.72 621.30,633.71 C622.58,633.69 623.86,633.68 625.14,633.67 C626.43,633.65 627.71,633.64 628.99,633.62 C630.27,633.61 631.56,633.59 632.84,633.58 C634.12,633.56 635.41,633.55 636.69,633.53 C637.97,633.52 639.26,633.50 640.54,633.48 C641.83,633.47 643.11,633.45 644.40,633.43 C645.68,633.42 646.97,633.40 648.26,633.38 C649.54,633.36 650.83,633.34 652.12,633.32 C653.40,633.30 654.69,633.28 655.98,633.25 C657.27,633.23 658.56,633.21 659.84,633.18 C661.13,633.16 662.42,633.14 663.71,633.11 C665.00,633.08 666.29,633.06 667.58,633.03 C668.88,633.00 670.81,632.96 671.46,632.94" stroke="#000" stroke-width="1.2" stroke-dasharray="1 1.9"/>
</g>
<rect x="405" y="628" width="1" height="91" fill="#888"/>
<rect x="683" y="628" width="1" height="91" fill="#888"/>
<rect x="405" y="628" width="279" height="1" fill="#999"/>
<rect x="405" y="718" width="279" height="1" fill="#666"/>
<line x1="418.40" y1="719" x2="418.40" y2="721.20" stroke="#444" stroke-width="0.8"/>
<text x="418.40" y="727.50" font-size="7.1" text-anchor="middle">0</text>
<line x1="469.00" y1="719" x2="469.00" y2="721.20" stroke="#444" stroke-width="0.8"/>
<text x="469.00" y="727.50" font-size="7.1" text-anchor="middle">2</text>
<line x1="519.60" y1="719" x2="519.60" y2="721.20" stroke="#444" stroke-width="0.8"/>
<text x="519.60" y="727.50" font-size="7.1" text-anchor="middle">4</text>
<line x1="570.20" y1="719" x2="570.20" y2="721.20" stroke="#444" stroke-width="0.8"/>
<text x="570.20" y="727.50" font-size="7.1" text-anchor="middle">6</text>
<line x1="620.80" y1="719" x2="620.80" y2="721.20" stroke="#444" stroke-width="0.8"/>
<text x="620.80" y="727.50" font-size="7.1" text-anchor="middle">8</text>
<line x1="671.40" y1="719" x2="671.40" y2="721.20" stroke="#444" stroke-width="0.8"/>
<text x="671.40" y="727.50" font-size="7.1" text-anchor="middle">10</text>
<line x1="402.60" y1="642.50" x2="405" y2="642.50" stroke="#333" stroke-width="0.8"/>
<text x="400.50" y="645.00" font-size="7.1" text-anchor="end">10<tspan dy="-1.9" font-size="5.2">0</tspan></text>
<line x1="402.60" y1="669.40" x2="405" y2="669.40" stroke="#333" stroke-width="0.8"/>
<text x="400.50" y="671.90" font-size="7.1" text-anchor="end">10<tspan dy="-1.9" font-size="6.2">&#8722;</tspan><tspan font-size="5.2">2</tspan></text>
<line x1="402.60" y1="696.20" x2="405" y2="696.20" stroke="#333" stroke-width="0.8"/>
<text x="400.50" y="698.70" font-size="7.1" text-anchor="end">10<tspan dy="-1.9" font-size="6.2">&#8722;</tspan><tspan font-size="5.2">4</tspan></text>
<text x="544.50" y="624.80" font-size="8.5" text-anchor="middle">GLY</text>
<text x="544.50" y="737.60" font-size="7.1" text-anchor="middle">Time</text>
<text transform="translate(382.60,673.00) rotate(-90)" font-size="7.1" text-anchor="middle">Average Concentration</text>
<clipPath id="c35_801"><rect x="35" y="801" width="279" height="91"/></clipPath>
<g clip-path="url(#c35_801)" fill="none" stroke-width="1.5">
<path d="M47.53,887.53 C47.61,886.95 47.85,885.21 48.00,884.02 C48.15,882.82 48.29,881.60 48.42,880.37 C48.56,879.14 48.69,877.88 48.82,876.62 C48.96,875.36 49.09,874.08 49.23,872.79 C49.38,871.51 49.52,870.21 49.69,868.92 C49.86,867.62 50.03,866.32 50.23,865.02 C50.42,863.72 50.63,862.42 50.87,861.13 C51.11,859.83 51.37,858.54 51.66,857.27 C51.95,855.99 52.26,854.72 52.61,853.47 C52.95,852.22 53.33,850.99 53.75,849.77 C54.16,848.56 54.61,847.36 55.10,846.19 C55.60,845.03 56.13,843.88 56.70,842.77 C57.28,841.66 57.90,840.57 58.56,839.52 C59.21,838.47 59.92,837.45 60.65,836.46 C61.39,835.47 62.17,834.52 62.99,833.60 C63.80,832.68 64.65,831.79 65.54,830.95 C66.43,830.10 67.35,829.29 68.31,828.52 C69.26,827.75 70.25,827.02 71.27,826.33 C72.29,825.64 73.34,824.99 74.42,824.38 C75.50,823.77 76.62,823.21 77.75,822.68 C78.88,822.16 80.04,821.67 81.22,821.21 C82.39,820.75 83.59,820.33 84.80,819.94 C86.01,819.54 87.24,819.17 88.47,818.82 C89.69,818.46 90.94,818.14 92.18,817.82 C93.42,817.51 94.66,817.21 95.91,816.92 C97.15,816.63 98.40,816.36 99.65,816.10 C100.89,815.84 102.14,815.59 103.39,815.36 C104.64,815.12 105.89,814.90 107.15,814.69 C108.40,814.47 109.65,814.27 110.91,814.08 C112.16,813.89 113.42,813.71 114.68,813.54 C115.93,813.37 117.19,813.21 118.45,813.06 C119.71,812.91 120.97,812.76 122.23,812.63 C123.49,812.49 124.75,812.37 126.01,812.25 C127.27,812.13 128.54,812.02 129.80,811.91 C131.06,811.81 132.33,811.71 133.59,811.61 C134.86,811.52 136.12,811.44 137.39,811.35 C138.65,811.27 139.92,811.20 141.18,811.12 C142.45,811.05 143.72,810.99 144.98,810.92 C146.25,810.86 147.52,810.80 148.78,810.74 C150.05,810.68 151.32,810.63 152.58,810.58 C153.85,810.52 155.12,810.47 156.39,810.42 C157.65,810.38 158.92,810.33 160.19,810.28 C161.45,810.23 162.72,810.19 163.99,810.14 C165.26,810.10 166.52,810.05 167.79,810.00 C169.05,809.96 170.32,809.91 171.59,809.86 C172.85,809.82 174.12,809.77 175.38,809.72 C176.65,809.67 177.91,809.63 179.18,809.58 C180.44,809.53 181.71,809.49 182.97,809.44 C184.24,809.39 185.50,809.34 186.77,809.30 C188.03,809.25 189.29,809.20 190.56,809.16 C191.82,809.11 193.09,809.06 194.35,809.01 C195.61,808.97 196.88,808.92 198.14,808.87 C199.40,808.83 200.67,808.78 201.93,808.73 C203.19,808.69 204.46,808.64 205.72,808.59 C206.98,808.55 208.25,808.50 209.51,808.46 C210.77,808.41 212.04,808.37 213.30,808.32 C214.56,808.27 215.83,808.23 217.09,808.19 C218.35,808.14 219.62,808.10 220.88,808.05 C222.14,808.01 223.41,807.96 224.67,807.92 C225.93,807.88 227.20,807.84 228.46,807.79 C229.72,807.75 230.98,807.71 232.25,807.67 C233.51,807.62 234.77,807.58 236.04,807.54 C237.30,807.50 238.57,807.46 239.83,807.42 C241.09,807.38 242.36,807.34 243.62,807.30 C244.88,807.27 246.15,807.23 247.41,807.19 C248.68,807.15 249.94,807.12 251.20,807.08 C252.47,807.04 253.73,807.01 255.00,806.97 C256.26,806.94 257.53,806.90 258.79,806.87 C260.06,806.84 261.32,806.80 262.59,806.77 C263.85,806.74 265.12,806.71 266.38,806.68 C267.65,806.64 268.92,806.61 270.18,806.59 C271.45,806.56 272.71,806.53 273.98,806.50 C275.25,806.47 276.51,806.45 277.78,806.42 C279.05,806.39 280.32,806.37 281.58,806.34 C282.85,806.32 284.12,806.30 285.39,806.27 C286.66,806.25 287.92,806.23 289.19,806.21 C290.46,806.19 291.73,806.17 293.00,806.15 C294.27,806.13 295.54,806.12 296.81,806.10 C298.08,806.08 299.99,806.06 300.62,806.05" stroke="#ff1a1a"/>
<path d="M47.53,887.53 C47.61,886.95 47.85,885.21 48.00,884.02 C48.15,882.82 48.29,881.60 48.42,880.37 C48.56,879.14 48.69,877.88 48.82,876.62 C48.96,875.36 49.09,874.08 49.23,872.79 C49.38,871.51 49.52,870.21 49.69,868.92 C49.86,867.62 50.03,866.32 50.23,865.02 C50.42,863.72 50.63,862.42 50.87,861.13 C51.11,859.83 51.37,858.54 51.66,857.27 C51.95,855.99 52.26,854.72 52.61,853.47 C52.95,852.22 53.33,850.99 53.75,849.77 C54.16,848.56 54.61,847.36 55.10,846.19 C55.60,845.03 56.13,843.88 56.70,842.77 C57.28,841.66 57.90,840.57 58.56,839.52 C59.21,838.47 59.92,837.45 60.65,836.46 C61.39,835.47 62.17,834.52 62.99,833.60 C63.80,832.68 64.65,831.79 65.54,830.95 C66.43,830.10 67.35,829.29 68.31,828.52 C69.26,827.75 70.25,827.02 71.27,826.33 C72.29,825.64 73.34,824.99 74.42,824.38 C75.50,823.77 76.62,823.21 77.75,822.68 C78.88,822.16 80.04,821.67 81.22,821.21 C82.39,820.75 83.59,820.33 84.80,819.94 C86.01,819.54 87.24,819.17 88.47,818.82 C89.69,818.46 90.94,818.14 92.18,817.82 C93.42,817.51 94.66,817.21 95.91,816.92 C97.15,816.63 98.40,816.36 99.65,816.10 C100.89,815.84 102.14,815.59 103.39,815.36 C104.64,815.12 105.89,814.90 107.15,814.69 C108.40,814.47 109.65,814.27 110.91,814.08 C112.16,813.89 113.42,813.71 114.68,813.54 C115.93,813.37 117.19,813.21 118.45,813.06 C119.71,812.91 120.97,812.76 122.23,812.63 C123.49,812.49 124.75,812.37 126.01,812.25 C127.27,812.13 128.54,812.02 129.80,811.91 C131.06,811.81 132.33,811.71 133.59,811.61 C134.86,811.52 136.12,811.44 137.39,811.35 C138.65,811.27 139.92,811.20 141.18,811.12 C142.45,811.05 143.72,810.99 144.98,810.92 C146.25,810.86 147.52,810.80 148.78,810.74 C150.05,810.68 151.32,810.63 152.58,810.58 C153.85,810.52 155.12,810.47 156.39,810.42 C157.65,810.38 158.92,810.33 160.19,810.28 C161.45,810.23 162.72,810.19 163.99,810.14 C165.26,810.10 166.52,810.05 167.79,810.00 C169.05,809.96 170.32,809.91 171.59,809.86 C172.85,809.82 174.12,809.77 175.38,809.72 C176.65,809.67 177.91,809.63 179.18,809.58 C180.44,809.53 181.71,809.49 182.97,809.44 C184.24,809.39 185.50,809.34 186.77,809.30 C188.03,809.25 189.29,809.20 190.56,809.16 C191.82,809.11 193.09,809.06 194.35,809.01 C195.61,808.97 196.88,808.92 198.14,808.87 C199.40,808.83 200.67,808.78 201.93,808.73 C203.19,808.69 204.46,808.64 205.72,808.59 C206.98,808.55 208.25,808.50 209.51,808.46 C210.77,808.41 212.04,808.37 213.30,808.32 C214.56,808.27 215.83,808.23 217.09,808.19 C218.35,808.14 219.62,808.10 220.88,808.05 C222.14,808.01 223.41,807.96 224.67,807.92 C225.93,807.88 227.20,807.84 228.46,807.79 C229.72,807.75 230.98,807.71 232.25,807.67 C233.51,807.62 234.77,807.58 236.04,807.54 C237.30,807.50 238.57,807.46 239.83,807.42 C241.09,807.38 242.36,807.34 243.62,807.30 C244.88,807.27 246.15,807.23 247.41,807.19 C248.68,807.15 249.94,807.12 251.20,807.08 C252.47,807.04 253.73,807.01 255.00,806.97 C256.26,806.94 257.53,806.90 258.79,806.87 C260.06,806.84 261.32,806.80 262.59,806.77 C263.85,806.74 265.12,806.71 266.38,806.68 C267.65,806.64 268.92,806.61 270.18,806.59 C271.45,806.56 272.71,806.53 273.98,806.50 C275.25,806.47 276.51,806.45 277.78,806.42 C279.05,806.39 280.32,806.37 281.58,806.34 C282.85,806.32 284.12,806.30 285.39,806.27 C286.66,806.25 287.92,806.23 289.19,806.21 C290.46,806.19 291.73,806.17 293.00,806.15 C294.27,806.13 295.54,806.12 296.81,806.10 C298.08,806.08 299.99,806.06 300.62,806.05" stroke="#1a1aff" stroke-dasharray="4.3 1.4"/>
<path d="M47.53,887.33 C47.61,886.75 47.85,885.01 48.00,883.82 C48.15,882.62 48.29,881.40 48.42,880.17 C48.56,878.94 48.69,877.68 48.82,876.42 C48.96,875.16 49.09,873.88 49.23,872.59 C49.38,871.31 49.52,870.01 49.69,868.72 C49.86,867.42 50.03,866.12 50.23,864.82 C50.42,863.52 50.63,862.22 50.87,860.93 C51.11,859.63 51.37,858.34 51.66,857.07 C51.95,855.79 52.26,854.52 52.61,853.27 C52.95,852.02 53.33,850.79 53.75,849.57 C54.16,848.36 54.61,847.16 55.10,845.99 C55.60,844.83 56.13,843.68 56.70,842.57 C57.28,841.46 57.90,840.37 58.56,839.32 C59.21,838.27 59.92,837.25 60.65,836.26 C61.39,835.27 62.17,834.32 62.99,833.40 C63.80,832.48 64.65,831.59 65.54,830.75 C66.43,829.90 67.35,829.09 68.31,828.32 C69.26,827.55 70.25,826.82 71.27,826.13 C72.29,825.44 73.34,824.79 74.42,824.18 C75.50,823.57 76.62,823.01 77.75,822.48 C78.88,821.96 80.04,821.47 81.22,821.01 C82.39,820.55 83.59,820.13 84.80,819.74 C86.01,819.34 87.24,818.97 88.47,818.62 C89.69,818.26 90.94,817.94 92.18,817.62 C93.42,817.31 94.66,817.01 95.91,816.72 C97.15,816.43 98.40,816.16 99.65,815.90 C100.89,815.64 102.14,815.39 103.39,815.16 C104.64,814.92 105.89,814.70 107.15,814.49 C108.40,814.27 109.65,814.07 110.91,813.88 C112.16,813.69 113.42,813.51 114.68,813.34 C115.93,813.17 117.19,813.01 118.45,812.86 C119.71,812.71 120.97,812.56 122.23,812.43 C123.49,812.29 124.75,812.17 126.01,812.05 C127.27,811.93 128.54,811.82 129.80,811.71 C131.06,811.61 132.33,811.51 133.59,811.41 C134.86,811.32 136.12,811.24 137.39,811.15 C138.65,811.07 139.92,811.00 141.18,810.92 C142.45,810.85 143.72,810.79 144.98,810.72 C146.25,810.66 147.52,810.60 148.78,810.54 C150.05,810.48 151.32,810.43 152.58,810.38 C153.85,810.32 155.12,810.27 156.39,810.22 C157.65,810.18 158.92,810.13 160.19,810.08 C161.45,810.03 162.72,809.99 163.99,809.94 C165.26,809.90 166.52,809.85 167.79,809.80 C169.05,809.76 170.32,809.71 171.59,809.66 C172.85,809.62 174.12,809.57 175.38,809.52 C176.65,809.47 177.91,809.43 179.18,809.38 C180.44,809.33 181.71,809.29 182.97,809.24 C184.24,809.19 185.50,809.14 186.77,809.10 C188.03,809.05 189.29,809.00 190.56,808.96 C191.82,808.91 193.09,808.86 194.35,808.81 C195.61,808.77 196.88,808.72 198.14,808.67 C199.40,808.63 200.67,808.58 201.93,808.53 C203.19,808.49 204.46,808.44 205.72,808.39 C206.98,808.35 208.25,808.30 209.51,808.26 C210.77,808.21 212.04,808.17 213.30,808.12 C214.56,808.07 215.83,808.03 217.09,807.99 C218.35,807.94 219.62,807.90 220.88,807.85 C222.14,807.81 223.41,807.76 224.67,807.72 C225.93,807.68 227.20,807.64 228.46,807.59 C229.72,807.55 230.98,807.51 232.25,807.47 C233.51,807.42 234.77,807.38 236.04,807.34 C237.30,807.30 238.57,807.26 239.83,807.22 C241.09,807.18 242.36,807.14 243.62,807.10 C244.88,807.07 246.15,807.03 247.41,806.99 C248.68,806.95 249.94,806.92 251.20,806.88 C252.47,806.84 253.73,806.81 255.00,806.77 C256.26,806.74 257.53,806.70 258.79,806.67 C260.06,806.64 261.32,806.60 262.59,806.57 C263.85,806.54 265.12,806.51 266.38,806.48 C267.65,806.44 268.92,806.41 270.18,806.39 C271.45,806.36 272.71,806.33 273.98,806.30 C275.25,806.27 276.51,806.25 277.78,806.22 C279.05,806.19 280.32,806.17 281.58,806.14 C282.85,806.12 284.12,806.10 285.39,806.07 C286.66,806.05 287.92,806.03 289.19,806.01 C290.46,805.99 291.73,805.97 293.00,805.95 C294.27,805.93 295.54,805.92 296.81,805.90 C298.08,805.88 299.99,805.86 300.62,805.85" stroke="#000" stroke-width="1.2" stroke-dasharray="1 1.9"/>
</g>
<rect x="35" y="801" width="1" height="91" fill="#888"/>
<rect x="313" y="801" width="1" height="91" fill="#888"/>
<rect x="35" y="801" width="279" height="1" fill="#444"/>
<rect x="35" y="891" width="279" height="1" fill="#555"/>
<line x1="47.50" y1="892" x2="47.50" y2="894.20" stroke="#444" stroke-width="0.8"/>
<text x="47.50" y="900.50" font-size="7.1" text-anchor="middle">0</text>
<line x1="98.30" y1="892" x2="98.30" y2="894.20" stroke="#444" stroke-width="0.8"/>
<text x="98.30" y="900.50" font-size="7.1" text-anchor="middle">2</text>
<line x1="149.10" y1="892" x2="149.10" y2="894.20" stroke="#444" stroke-width="0.8"/>
<text x="149.10" y="900.50" font-size="7.1" text-anchor="middle">4</text>
<line x1="199.90" y1="892" x2="199.90" y2="894.20" stroke="#444" stroke-width="0.8"/>
<text x="199.90" y="900.50" font-size="7.1" text-anchor="middle">6</text>
<line x1="250.70" y1="892" x2="250.70" y2="894.20" stroke="#444" stroke-width="0.8"/>
<text x="250.70" y="900.50" font-size="7.1" text-anchor="middle">8</text>
<line x1="301.50" y1="892" x2="301.50" y2="894.20" stroke="#444" stroke-width="0.8"/>
<text x="301.50" y="900.50" font-size="7.1" text-anchor="middle">10</text>
<line x1="32.60" y1="818.40" x2="35" y2="818.40" stroke="#333" stroke-width="0.8"/>
<text x="30.50" y="820.90" font-size="7.1" text-anchor="end">10<tspan dy="-1.9" font-size="6.2">&#8722;</tspan><tspan font-size="5.2">1</tspan></text>
<line x1="32.60" y1="837.40" x2="35" y2="837.40" stroke="#333" stroke-width="0.8"/>
<text x="30.50" y="839.90" font-size="7.1" text-anchor="end">10<tspan dy="-1.9" font-size="6.2">&#8722;</tspan><tspan font-size="5.2">3</tspan></text>
<line x1="32.60" y1="856.30" x2="35" y2="856.30" stroke="#333" stroke-width="0.8"/>
<text x="30.50" y="858.80" font-size="7.1" text-anchor="end">10<tspan dy="-1.9" font-size="6.2">&#8722;</tspan><tspan font-size="5.2">5</tspan></text>
<line x1="32.60" y1="875.40" x2="35" y2="875.40" stroke="#333" stroke-width="0.8"/>
<text x="30.50" y="877.90" font-size="7.1" text-anchor="end">10<tspan dy="-1.9" font-size="6.2">&#8722;</tspan><tspan font-size="5.2">7</tspan></text>
<text x="174.50" y="797.80" font-size="8.5" text-anchor="middle">PYR</text>
<text x="174.50" y="910.60" font-size="7.1" text-anchor="middle">Time</text>
<text transform="translate(11.90,846.00) rotate(-90)" font-size="7.1" text-anchor="middle">Average Concentration</text>
<clipPath id="c405_801"><rect x="405" y="801" width="279" height="91"/></clipPath>
<g clip-path="url(#c405_801)" fill="none" stroke-width="1.5">
<path d="M418.59,887.72 C418.61,887.09 418.63,885.22 418.70,883.98 C418.77,882.73 418.87,881.48 419.00,880.23 C419.13,878.98 419.29,877.72 419.49,876.48 C419.68,875.23 419.91,873.99 420.16,872.75 C420.42,871.51 420.71,870.28 421.03,869.06 C421.35,867.84 421.70,866.62 422.08,865.42 C422.46,864.22 422.87,863.02 423.31,861.84 C423.75,860.67 424.22,859.50 424.73,858.36 C425.23,857.21 425.76,856.08 426.32,854.97 C426.88,853.86 427.47,852.76 428.09,851.70 C428.72,850.63 429.37,849.58 430.04,848.55 C430.72,847.53 431.43,846.53 432.17,845.56 C432.91,844.59 433.68,843.65 434.47,842.73 C435.27,841.82 436.09,840.94 436.94,840.08 C437.79,839.23 438.67,838.40 439.57,837.60 C440.47,836.80 441.40,836.03 442.35,835.29 C443.30,834.54 444.27,833.83 445.26,833.13 C446.25,832.44 447.26,831.77 448.29,831.13 C449.33,830.48 450.38,829.86 451.44,829.26 C452.51,828.66 453.59,828.09 454.68,827.53 C455.78,826.97 456.89,826.44 458.01,825.93 C459.14,825.41 460.27,824.92 461.42,824.44 C462.56,823.96 463.72,823.51 464.88,823.06 C466.04,822.62 467.22,822.20 468.39,821.79 C469.57,821.38 470.76,820.99 471.94,820.61 C473.13,820.24 474.32,819.87 475.52,819.52 C476.71,819.17 477.91,818.84 479.10,818.51 C480.30,818.19 481.50,817.88 482.70,817.58 C483.91,817.28 485.11,816.99 486.32,816.72 C487.52,816.44 488.73,816.18 489.94,815.93 C491.15,815.68 492.36,815.43 493.58,815.20 C494.79,814.97 496.01,814.75 497.22,814.54 C498.44,814.33 499.66,814.13 500.88,813.94 C502.10,813.75 503.32,813.56 504.54,813.39 C505.76,813.22 506.99,813.05 508.21,812.89 C509.44,812.74 510.66,812.59 511.89,812.45 C513.12,812.31 514.35,812.17 515.58,812.05 C516.81,811.92 518.04,811.80 519.27,811.69 C520.50,811.57 521.73,811.47 522.97,811.36 C524.20,811.26 525.43,811.17 526.67,811.08 C527.90,810.99 529.14,810.90 530.37,810.82 C531.61,810.74 532.84,810.66 534.08,810.59 C535.32,810.52 536.55,810.45 537.79,810.38 C539.03,810.32 540.27,810.26 541.50,810.20 C542.74,810.14 543.98,810.09 545.22,810.03 C546.46,809.98 547.69,809.93 548.93,809.88 C550.17,809.83 551.41,809.78 552.65,809.73 C553.88,809.69 555.12,809.64 556.36,809.60 C557.60,809.55 558.83,809.51 560.07,809.46 C561.31,809.42 562.54,809.37 563.78,809.33 C565.01,809.28 566.25,809.23 567.49,809.19 C568.72,809.14 569.95,809.10 571.19,809.05 C572.42,809.00 573.66,808.95 574.89,808.91 C576.12,808.86 577.36,808.81 578.59,808.76 C579.82,808.72 581.05,808.67 582.29,808.62 C583.52,808.57 584.75,808.52 585.98,808.48 C587.21,808.43 588.45,808.38 589.68,808.33 C590.91,808.28 592.14,808.24 593.37,808.19 C594.60,808.14 595.83,808.09 597.06,808.04 C598.30,808.00 599.53,807.95 600.76,807.90 C601.99,807.85 603.22,807.81 604.45,807.76 C605.68,807.71 606.91,807.67 608.14,807.62 C609.37,807.57 610.60,807.53 611.83,807.48 C613.06,807.44 614.29,807.39 615.53,807.35 C616.76,807.30 617.99,807.26 619.22,807.22 C620.45,807.17 621.68,807.13 622.91,807.09 C624.14,807.05 625.38,807.01 626.61,806.96 C627.84,806.92 629.07,806.88 630.30,806.84 C631.54,806.80 632.77,806.77 634.00,806.73 C635.24,806.69 636.47,806.65 637.70,806.62 C638.94,806.58 640.17,806.54 641.41,806.51 C642.64,806.48 643.88,806.44 645.11,806.41 C646.35,806.38 647.58,806.35 648.82,806.32 C650.05,806.29 651.29,806.26 652.53,806.23 C653.77,806.20 655.00,806.17 656.24,806.15 C657.48,806.12 658.72,806.10 659.96,806.07 C661.20,806.05 662.44,806.03 663.68,806.01 C664.92,805.99 666.16,805.97 667.40,805.95 C668.64,805.93 670.51,805.91 671.13,805.90" stroke="#ff1a1a"/>
<path d="M418.59,887.72 C418.61,887.09 418.63,885.22 418.70,883.98 C418.77,882.73 418.87,881.48 419.00,880.23 C419.13,878.98 419.29,877.72 419.49,876.48 C419.68,875.23 419.91,873.99 420.16,872.75 C420.42,871.51 420.71,870.28 421.03,869.06 C421.35,867.84 421.70,866.62 422.08,865.42 C422.46,864.22 422.87,863.02 423.31,861.84 C423.75,860.67 424.22,859.50 424.73,858.36 C425.23,857.21 425.76,856.08 426.32,854.97 C426.88,853.86 427.47,852.76 428.09,851.70 C428.72,850.63 429.37,849.58 430.04,848.55 C430.72,847.53 431.43,846.53 432.17,845.56 C432.91,844.59 433.68,843.65 434.47,842.73 C435.27,841.82 436.09,840.94 436.94,840.08 C437.79,839.23 438.67,838.40 439.57,837.60 C440.47,836.80 441.40,836.03 442.35,835.29 C443.30,834.54 444.27,833.83 445.26,833.13 C446.25,832.44 447.26,831.77 448.29,831.13 C449.33,830.48 450.38,829.86 451.44,829.26 C452.51,828.66 453.59,828.09 454.68,827.53 C455.78,826.97 456.89,826.44 458.01,825.93 C459.14,825.41 460.27,824.92 461.42,824.44 C462.56,823.96 463.72,823.51 464.88,823.06 C466.04,822.62 467.22,822.20 468.39,821.79 C469.57,821.38 470.76,820.99 471.94,820.61 C473.13,820.24 474.32,819.87 475.52,819.52 C476.71,819.17 477.91,818.84 479.10,818.51 C480.30,818.19 481.50,817.88 482.70,817.58 C483.91,817.28 485.11,816.99 486.32,816.72 C487.52,816.44 488.73,816.18 489.94,815.93 C491.15,815.68 492.36,815.43 493.58,815.20 C494.79,814.97 496.01,814.75 497.22,814.54 C498.44,814.33 499.66,814.13 500.88,813.94 C502.10,813.75 503.32,813.56 504.54,813.39 C505.76,813.22 506.99,813.05 508.21,812.89 C509.44,812.74 510.66,812.59 511.89,812.45 C513.12,812.31 514.35,812.17 515.58,812.05 C516.81,811.92 518.04,811.80 519.27,811.69 C520.50,811.57 521.73,811.47 522.97,811.36 C524.20,811.26 525.43,811.17 526.67,811.08 C527.90,810.99 529.14,810.90 530.37,810.82 C531.61,810.74 532.84,810.66 534.08,810.59 C535.32,810.52 536.55,810.45 537.79,810.38 C539.03,810.32 540.27,810.26 541.50,810.20 C542.74,810.14 543.98,810.09 545.22,810.03 C546.46,809.98 547.69,809.93 548.93,809.88 C550.17,809.83 551.41,809.78 552.65,809.73 C553.88,809.69 555.12,809.64 556.36,809.60 C557.60,809.55 558.83,809.51 560.07,809.46 C561.31,809.42 562.54,809.37 563.78,809.33 C565.01,809.28 566.25,809.23 567.49,809.19 C568.72,809.14 569.95,809.10 571.19,809.05 C572.42,809.00 573.66,808.95 574.89,808.91 C576.12,808.86 577.36,808.81 578.59,808.76 C579.82,808.72 581.05,808.67 582.29,808.62 C583.52,808.57 584.75,808.52 585.98,808.48 C587.21,808.43 588.45,808.38 589.68,808.33 C590.91,808.28 592.14,808.24 593.37,808.19 C594.60,808.14 595.83,808.09 597.06,808.04 C598.30,808.00 599.53,807.95 600.76,807.90 C601.99,807.85 603.22,807.81 604.45,807.76 C605.68,807.71 606.91,807.67 608.14,807.62 C609.37,807.57 610.60,807.53 611.83,807.48 C613.06,807.44 614.29,807.39 615.53,807.35 C616.76,807.30 617.99,807.26 619.22,807.22 C620.45,807.17 621.68,807.13 622.91,807.09 C624.14,807.05 625.38,807.01 626.61,806.96 C627.84,806.92 629.07,806.88 630.30,806.84 C631.54,806.80 632.77,806.77 634.00,806.73 C635.24,806.69 636.47,806.65 637.70,806.62 C638.94,806.58 640.17,806.54 641.41,806.51 C642.64,806.48 643.88,806.44 645.11,806.41 C646.35,806.38 647.58,806.35 648.82,806.32 C650.05,806.29 651.29,806.26 652.53,806.23 C653.77,806.20 655.00,806.17 656.24,806.15 C657.48,806.12 658.72,806.10 659.96,806.07 C661.20,806.05 662.44,806.03 663.68,806.01 C664.92,805.99 666.16,805.97 667.40,805.95 C668.64,805.93 670.51,805.91 671.13,805.90" stroke="#1a1aff" stroke-dasharray="4.3 1.4"/>
<path d="M418.59,887.52 C418.61,886.89 418.63,885.02 418.70,883.78 C418.77,882.53 418.87,881.28 419.00,880.03 C419.13,878.78 419.29,877.52 419.49,876.28 C419.68,875.03 419.91,873.79 420.16,872.55 C420.42,871.31 420.71,870.08 421.03,868.86 C421.35,867.64 421.70,866.42 422.08,865.22 C422.46,864.02 422.87,862.82 423.31,861.64 C423.75,860.47 424.22,859.30 424.73,858.16 C425.23,857.01 425.76,855.88 426.32,854.77 C426.88,853.66 427.47,852.56 428.09,851.50 C428.72,850.43 429.37,849.38 430.04,848.35 C430.72,847.33 431.43,846.33 432.17,845.36 C432.91,844.39 433.68,843.45 434.47,842.53 C435.27,841.62 436.09,840.74 436.94,839.88 C437.79,839.03 438.67,838.20 439.57,837.40 C440.47,836.60 441.40,835.83 442.35,835.09 C443.30,834.34 444.27,833.63 445.26,832.93 C446.25,832.24 447.26,831.57 448.29,830.93 C449.33,830.28 450.38,829.66 451.44,829.06 C452.51,828.46 453.59,827.89 454.68,827.33 C455.78,826.77 456.89,826.24 458.01,825.73 C459.14,825.21 460.27,824.72 461.42,824.24 C462.56,823.76 463.72,823.31 464.88,822.86 C466.04,822.42 467.22,822.00 468.39,821.59 C469.57,821.18 470.76,820.79 471.94,820.41 C473.13,820.04 474.32,819.67 475.52,819.32 C476.71,818.97 477.91,818.64 479.10,818.31 C480.30,817.99 481.50,817.68 482.70,817.38 C483.91,817.08 485.11,816.79 486.32,816.52 C487.52,816.24 488.73,815.98 489.94,815.73 C491.15,815.48 492.36,815.23 493.58,815.00 C494.79,814.77 496.01,814.55 497.22,814.34 C498.44,814.13 499.66,813.93 500.88,813.74 C502.10,813.55 503.32,813.36 504.54,813.19 C505.76,813.02 506.99,812.85 508.21,812.69 C509.44,812.54 510.66,812.39 511.89,812.25 C513.12,812.11 514.35,811.97 515.58,811.85 C516.81,811.72 518.04,811.60 519.27,811.49 C520.50,811.37 521.73,811.27 522.97,811.16 C524.20,811.06 525.43,810.97 526.67,810.88 C527.90,810.79 529.14,810.70 530.37,810.62 C531.61,810.54 532.84,810.46 534.08,810.39 C535.32,810.32 536.55,810.25 537.79,810.18 C539.03,810.12 540.27,810.06 541.50,810.00 C542.74,809.94 543.98,809.89 545.22,809.83 C546.46,809.78 547.69,809.73 548.93,809.68 C550.17,809.63 551.41,809.58 552.65,809.53 C553.88,809.49 555.12,809.44 556.36,809.40 C557.60,809.35 558.83,809.31 560.07,809.26 C561.31,809.22 562.54,809.17 563.78,809.13 C565.01,809.08 566.25,809.03 567.49,808.99 C568.72,808.94 569.95,808.90 571.19,808.85 C572.42,808.80 573.66,808.75 574.89,808.71 C576.12,808.66 577.36,808.61 578.59,808.56 C579.82,808.52 581.05,808.47 582.29,808.42 C583.52,808.37 584.75,808.32 585.98,808.28 C587.21,808.23 588.45,808.18 589.68,808.13 C590.91,808.08 592.14,808.04 593.37,807.99 C594.60,807.94 595.83,807.89 597.06,807.84 C598.30,807.80 599.53,807.75 600.76,807.70 C601.99,807.65 603.22,807.61 604.45,807.56 C605.68,807.51 606.91,807.47 608.14,807.42 C609.37,807.37 610.60,807.33 611.83,807.28 C613.06,807.24 614.29,807.19 615.53,807.15 C616.76,807.10 617.99,807.06 619.22,807.02 C620.45,806.97 621.68,806.93 622.91,806.89 C624.14,806.85 625.38,806.81 626.61,806.76 C627.84,806.72 629.07,806.68 630.30,806.64 C631.54,806.60 632.77,806.57 634.00,806.53 C635.24,806.49 636.47,806.45 637.70,806.42 C638.94,806.38 640.17,806.34 641.41,806.31 C642.64,806.28 643.88,806.24 645.11,806.21 C646.35,806.18 647.58,806.15 648.82,806.12 C650.05,806.09 651.29,806.06 652.53,806.03 C653.77,806.00 655.00,805.97 656.24,805.95 C657.48,805.92 658.72,805.90 659.96,805.87 C661.20,805.85 662.44,805.83 663.68,805.81 C664.92,805.79 666.16,805.77 667.40,805.75 C668.64,805.73 670.51,805.71 671.13,805.70" stroke="#000" stroke-width="1.2" stroke-dasharray="1 1.9"/>
</g>
<rect x="405" y="801" width="1" height="91" fill="#888"/>
<rect x="683" y="801" width="1" height="91" fill="#888"/>
<rect x="405" y="801" width="279" height="1" fill="#444"/>
<rect x="405" y="891" width="279" height="1" fill="#555"/>
<line x1="418.40" y1="892" x2="418.40" y2="894.20" stroke="#444" stroke-width="0.8"/>
<text x="418.40" y="900.50" font-size="7.1" text-anchor="middle">0</text>
<line x1="469.00" y1="892" x2="469.00" y2="894.20" stroke="#444" stroke-width="0.8"/>
<text x="469.00" y="900.50" font-size="7.1" text-anchor="middle">2</text>
<line x1="519.60" y1="892" x2="519.60" y2="894.20" stroke="#444" stroke-width="0.8"/>
<text x="519.60" y="900.50" font-size="7.1" text-anchor="middle">4</text>
<line x1="570.20" y1="892" x2="570.20" y2="894.20" stroke="#444" stroke-width="0.8"/>
<text x="570.20" y="900.50" font-size="7.1" text-anchor="middle">6</text>
<line x1="620.80" y1="892" x2="620.80" y2="894.20" stroke="#444" stroke-width="0.8"/>
<text x="620.80" y="900.50" font-size="7.1" text-anchor="middle">8</text>
<line x1="671.40" y1="892" x2="671.40" y2="894.20" stroke="#444" stroke-width="0.8"/>
<text x="671.40" y="900.50" font-size="7.1" text-anchor="middle">10</text>
<line x1="402.60" y1="808.40" x2="405" y2="808.40" stroke="#333" stroke-width="0.8"/>
<text x="400.50" y="810.90" font-size="7.1" text-anchor="end">10<tspan dy="-1.9" font-size="6.2">&#8722;</tspan><tspan font-size="5.2">2</tspan></text>
<line x1="402.60" y1="825.40" x2="405" y2="825.40" stroke="#333" stroke-width="0.8"/>
<text x="400.50" y="827.90" font-size="7.1" text-anchor="end">10<tspan dy="-1.9" font-size="6.2">&#8722;</tspan><tspan font-size="5.2">6</tspan></text>
<line x1="402.60" y1="842.30" x2="405" y2="842.30" stroke="#333" stroke-width="0.8"/>
<text x="400.50" y="844.80" font-size="7.1" text-anchor="end">10<tspan dy="-1.9" font-size="6.2">&#8722;</tspan><tspan font-size="5.2">10</tspan></text>
<line x1="402.60" y1="859.20" x2="405" y2="859.20" stroke="#333" stroke-width="0.8"/>
<text x="400.50" y="861.70" font-size="7.1" text-anchor="end">10<tspan dy="-1.9" font-size="6.2">&#8722;</tspan><tspan font-size="5.2">14</tspan></text>
<line x1="402.60" y1="876.20" x2="405" y2="876.20" stroke="#333" stroke-width="0.8"/>
<text x="400.50" y="878.70" font-size="7.1" text-anchor="end">10<tspan dy="-1.9" font-size="6.2">&#8722;</tspan><tspan font-size="5.2">18</tspan></text>
<text x="544.50" y="797.80" font-size="8.5" text-anchor="middle">LAC</text>
<text x="544.50" y="910.60" font-size="7.1" text-anchor="middle">Time</text>
<text transform="translate(380.20,846.00) rotate(-90)" font-size="7.1" text-anchor="middle">Average Concentration</text>
<rect x="195.5" y="937.5" width="252.2" height="11.8" rx="1" fill="#fff" stroke="#333" stroke-width="0.8"/>
<line x1="197.8" y1="943.2" x2="212.9" y2="943.2" stroke="#ff3030" stroke-width="1.2"/>
<line x1="279.9" y1="943.2" x2="294.8" y2="943.2" stroke="#3030ff" stroke-width="1.2" stroke-dasharray="4.2 1.7"/>
<line x1="347.6" y1="943.2" x2="362.9" y2="943.2" stroke="#222" stroke-width="1" stroke-dasharray="1 1.9"/>
<text x="218.2" y="945" font-size="7.25">C<tspan font-size="5.7">UT</tspan>FEM Circle</text>
<text x="300.4" y="945" font-size="7.25">FEM Circle</text>
<text x="368" y="945" font-size="7.25">C<tspan font-size="5.7">UT</tspan>FEM Perturbed Circle</text>
</g>
</svg>
</body></html>
